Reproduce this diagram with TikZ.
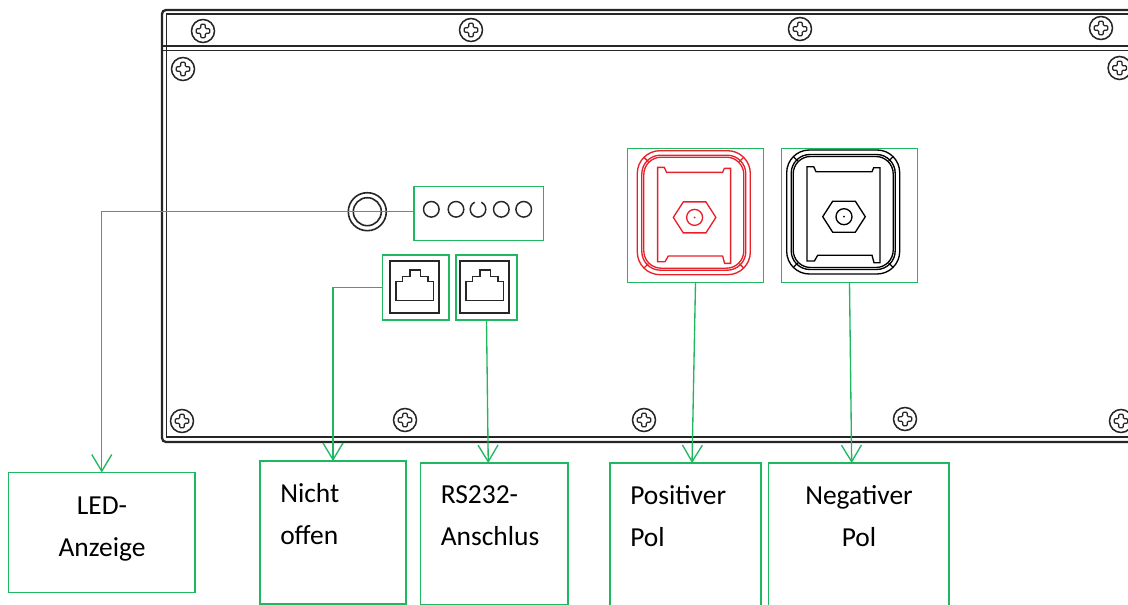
\documentclass[tikz,border=0pt]{standalone}
\usepackage{fontspec}
\setmainfont{Carlito}
\usetikzlibrary{arrows.meta, positioning, calc}
\definecolor{markgreen}{HTML}{1FB860}
\definecolor{polered}{HTML}{E8202A}
\tikzset{
  markbox/.style={draw=markgreen, line width=1pt, inner sep=0pt, outer sep=0pt},
  leader/.style={draw=markgreen, line width=1pt, -{Straight Barb[length=12.5pt,width=15pt]}},
  labeltext/.style={align=left, inner sep=0pt, anchor=north west, font=\fontsize{20.6}{31.5}\selectfont},
  panelline/.style={draw=black!85, line width=1.15pt},
  jackline/.style={draw=black!85, line width=1.1pt},
}
\begin{document}
\begin{tikzpicture}[x=0.75pt, y=-0.75pt]
\useasboundingbox (0,0) rectangle (1128,605);
\clip (0,0) rectangle (1128,605);

% Panel
\draw[panelline, line width=1.7pt, rounded corners=3pt] (1140,10) -- (162,10) -- (162,442) -- (1140,442);
\draw[panelline, line width=1pt] (1140,14) -- (166.5,14) -- (166.5,437) -- (1140,437);
\draw[panelline] (162,46) -- (1128,46);
\draw[panelline, line width=1pt] (162,50.7) -- (1128,50.7);

% Screws
\foreach \sx/\sy in {203/31, 471/30, 800/29, 1101/28, 183/69, 1119.6/68, 182/421, 405/420, 644/420, 905/419, 1121/421} {
  \draw[panelline] (\sx,\sy) circle (11.5);
  \draw[panelline, line width=0.95pt, rounded corners=0.8pt] ($(\sx,\sy)+(-2.3,-6.8)$) -- ++(4.6,0) -- ++(0,4.5) -- ++(4.5,0) -- ++(0,4.6) -- ++(-4.5,0) -- ++(0,4.5) -- ++(-4.6,0) -- ++(0,-4.5) -- ++(-4.5,0) -- ++(0,-4.6) -- ++(4.5,0) -- cycle;
}

% LED
\node[circle, draw=black!85, line width=1.2pt, minimum size=28.5pt, inner sep=0pt] (ledring) at (367.3,211.7) {};
\draw[panelline, line width=1.2pt] (367.3,211.7) circle (14);
\node[markbox, minimum width=97pt, minimum height=40.5pt] (ledbox) at (478.7,213.7) {};
\foreach \lx in {431.3,456,501.3,523.7} {
  \draw[jackline] (\lx,209.3) circle (7.8);
}
\draw[jackline] (478,209.3) ++(-65:7.8) arc (-65:245:7.8);

% Jacks
\node[markbox, minimum width=50pt, minimum height=48.75pt] (jackleft) at (415.7,287.5) {};
\node[markbox, minimum width=45.75pt, minimum height=48.75pt] (jackright) at (486.5,287.5) {};
\foreach \jx in {390,460} {
  \draw[jackline, line width=1.4pt] (\jx,260.7) rectangle ++(49.3,52.6);
  \draw[jackline] (\jx+6,300.7) -- ++(0,-19) -- ++(6.7,0) -- ++(0,-5) -- ++(7.3,0) -- ++(0,-6.7) -- ++(10.7,0) -- ++(0,6.7) -- ++(7.3,0) -- ++(0,5) -- ++(5.3,0) -- ++(0,19) -- cycle;
}

% Terminals
\node[markbox, minimum width=101.7pt, minimum height=100.8pt] (posterm) at (695.5,215.5) {};
\node[markbox, minimum width=101.7pt, minimum height=100.8pt] (negterm) at (849.5,215.5) {};
\foreach \px/\py/\pol in {637.3/150.7/polered, 786.7/150/black} {
  \begin{scope}[shift={(\px,\py)}, draw=\pol, line width=1pt]
    \draw[rounded corners=17pt] (0,0) rectangle (113,124);
    \draw[rounded corners=14pt] (4.5,4.5) rectangle (108.5,119.5);
    \draw[rounded corners=13pt] (6.5,6.5) rectangle (106.5,117.5);
    \foreach \cx/\cy/\dx/\dy in {7/7/4/4, 106/7/-4/4, 7/117/4/-4, 106/117/-4/-4} {
      \draw (\cx,\cy) -- ++(\dx,\dy);
    }
    \draw (20.3,16.7) -- (27,16.7) -- (29.3,21.7) -- (85.3,21.7) -- (87,17.7) -- (93.3,17.7) -- (93.3,112.7) -- (87.3,112.7) -- (85.3,105.3) -- (31,105.3) -- (27.7,111) -- (20.3,111) -- cycle;
    \draw (36,66.7) -- (46,51.2) -- (68.6,51.2) -- (78.6,66.7) -- (68.6,82.2) -- (46,82.2) -- cycle;
    \draw (57.3,66.7) circle (8);
    \fill[\pol] (57.3,66.7) circle (1);
  \end{scope}
}

% Label boxes
\node[markbox, minimum width=140pt, minimum height=90pt] (ledlabel) at (101.75,532.5) {};
\node[markbox, minimum width=109.5pt, minimum height=107.25pt] (nichtlabel) at (333,532.5) {};
\node[markbox, minimum width=110.6pt, minimum height=106.5pt] (rslabel) at (494.25,534) {};
\node[markbox, minimum width=113.25pt, minimum height=120pt] (poslabel) at (685.5,543) {};
\node[markbox, minimum width=135.4pt, minimum height=120pt] (neglabel) at (858.75,543) {};

\node[labeltext, align=center, anchor=north] (ledtext) at (102,497) {LED-\\Anzeige};
\node[labeltext] (nichttext) at (280,483) {Nicht\\offen};
\node[labeltext] (rstext) at (440.5,485) {RS232-\\Anschlus};
\node[labeltext] (postext) at (630,485) {Positiver\\Pol};
\node[labeltext, align=center, anchor=north] (negtext) at (859,485) {Negativer\\Pol};

% Leaders
\draw[leader] (ledbox.west |- ledring) -| (ledlabel.north);
\draw[leader] (jackleft.west) -| (nichtlabel.north);
\draw[leader] (jackright.south) -- ([xshift=-4.5pt]rslabel.north);
\draw[leader] (posterm.south) -- ([xshift=4.9pt]poslabel.north);
\draw[leader] (negterm.south) -- ([xshift=-5.3pt]neglabel.north);
\end{tikzpicture}
\end{document}
